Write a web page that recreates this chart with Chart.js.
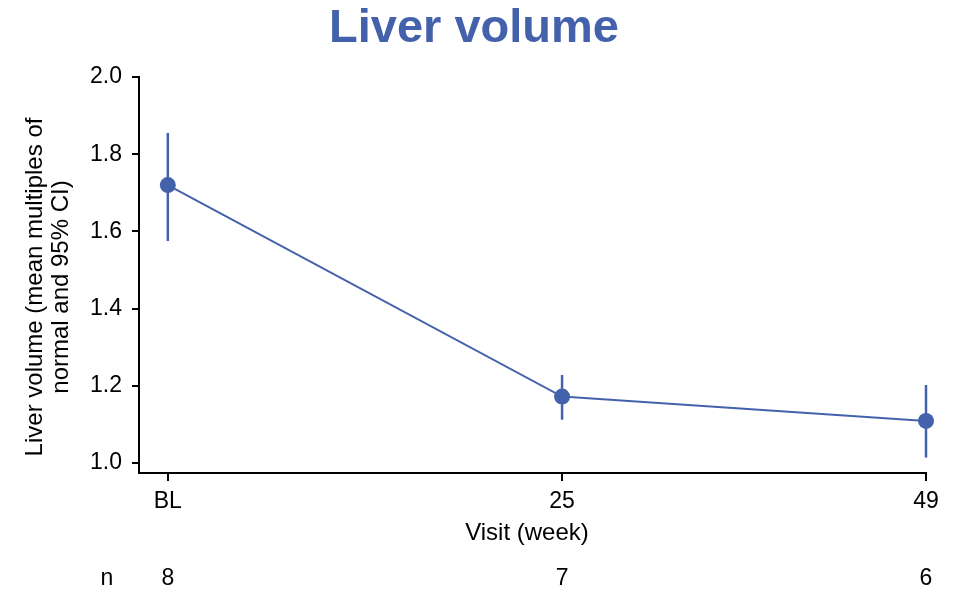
<!DOCTYPE html>
<html>
<head>
<meta charset="utf-8">
<title>Liver volume</title>
<script src="https://cdn.jsdelivr.net/npm/chart.js@4/dist/chart.umd.min.js"></script>
<style>
  html, body { margin: 0; padding: 0; background: #fff; }
  #wrap { width: 956px; height: 589px; position: relative; }
</style>
</head>
<body>
<div id="wrap"><canvas id="c" width="956" height="589"></canvas></div>
<script>
// Visit weeks (baseline plotted one week before dosing) and their labels
const weeks = [-1, 25, 49];
const weekLabels = ['BL', '25', '49'];
// Mean liver volume (multiples of normal) with 95% confidence limits
const meanVolume = [1.72, 1.172, 1.109];
const ciLower = [1.575, 1.112, 1.014];
const ciUpper = [1.855, 1.228, 1.202];
// Number of patients at each visit
const nPatients = [8, 7, 6];
// Y axis tick values
const yTicks = [1.0, 1.2, 1.4, 1.6, 1.8, 2.0];

const BLUE = '#4462AB';
const FONT = '"Liberation Sans", Arial, sans-serif';

const annotations = {
  id: 'annotations',
  beforeDatasetsDraw(chart) {
    const { ctx, scales: { x, y } } = chart;
    ctx.save();
    ctx.strokeStyle = BLUE;
    ctx.lineWidth = 2.5;
    weeks.forEach((w, i) => {
      const px = x.getPixelForValue(w);
      ctx.beginPath();
      ctx.moveTo(px, y.getPixelForValue(ciLower[i]));
      ctx.lineTo(px, y.getPixelForValue(ciUpper[i]));
      ctx.stroke();
    });
    ctx.restore();
  },
  afterDraw(chart) {
    const { ctx, scales: { x } } = chart;
    ctx.save();
    // Title
    ctx.fillStyle = BLUE;
    ctx.font = 'bold 47px ' + FONT;
    ctx.textAlign = 'center';
    ctx.textBaseline = 'alphabetic';
    ctx.fillText('Liver volume', 474, 42);

    ctx.fillStyle = '#000';
    // X axis title
    ctx.font = '24px ' + FONT;
    ctx.fillText('Visit (week)', 527, 540);
    // Patient counts under each visit
    ctx.font = '23px ' + FONT;
    ctx.fillText('n', 107, 585);
    weeks.forEach((w, i) => {
      ctx.fillText(String(nPatients[i]), x.getPixelForValue(w), 585);
    });
    // Y axis title, two lines rotated
    ctx.font = '24px ' + FONT;
    ctx.textBaseline = 'middle';
    ctx.translate(48, 287);
    ctx.rotate(-Math.PI / 2);
    ctx.fillText('Liver volume (mean multiples of', 0, -13);
    ctx.fillText('normal and 95% CI)', 0, 13);
    ctx.restore();
  }
};

new Chart(document.getElementById('c'), {
  type: 'line',
  data: {
    datasets: [{
      data: weeks.map((w, i) => ({ x: w, y: meanVolume[i] })),
      borderColor: BLUE,
      backgroundColor: BLUE,
      borderWidth: 2,
      pointRadius: 8,
      pointHoverRadius: 8,
      pointBackgroundColor: BLUE,
      pointBorderWidth: 0,
      tension: 0,
      clip: false
    }]
  },
  options: {
    responsive: false,
    animation: false,
    events: [],
    layout: { padding: { top: 77, right: 30, left: 0, bottom: 0 } },
    plugins: { legend: { display: false }, title: { display: false }, tooltip: { enabled: false } },
    scales: {
      x: {
        type: 'linear',
        min: -2.9,
        max: 49,
        afterFit(s) { s.height = 116; },
        afterBuildTicks(s) { s.ticks = weeks.map(v => ({ value: v })); },
        border: { display: true, color: '#000', width: 2 },
        grid: { display: true, drawOnChartArea: false, drawTicks: true, tickLength: 8, color: '#000', lineWidth: 2 },
        ticks: {
          autoSkip: false,
          maxRotation: 0,
          padding: 7,
          color: '#000',
          font: { family: FONT, size: 23 },
          callback: (v, i) => weekLabels[i]
        }
      },
      y: {
        min: 0.974,
        max: 2.0,
        afterFit(s) { s.width = 139; },
        afterBuildTicks(s) { s.ticks = yTicks.map(v => ({ value: v })); },
        border: { display: true, color: '#000', width: 2 },
        grid: { display: true, drawOnChartArea: false, drawTicks: true, tickLength: 7, color: '#000', lineWidth: 2 },
        ticks: {
          autoSkip: false,
          padding: 10,
          color: '#000',
          font: { family: FONT, size: 23 },
          callback: v => v.toFixed(1)
        }
      }
    }
  },
  plugins: [annotations]
});
</script>
</body>
</html>
